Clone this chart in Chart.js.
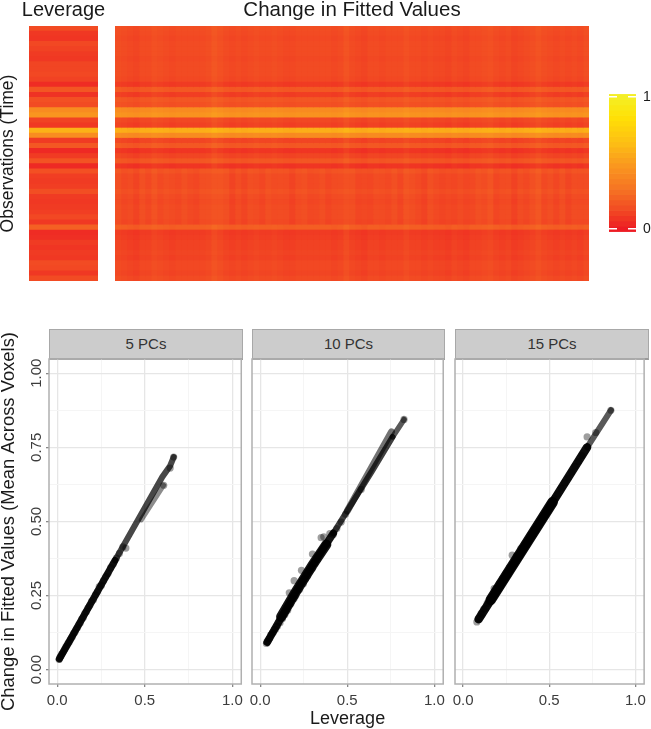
<!DOCTYPE html>
<html>
<head>
<meta charset="utf-8">
<script src="https://cdn.jsdelivr.net/npm/chart.js@4"></script>
<style>
    html, body { margin: 0; padding: 0; background: #fff; overflow: hidden; }
    canvas { position: absolute; }
    .soft { filter: blur(0.6px); }
    .strip {
        position: absolute; top: 329px; height: 28px; line-height: 28px;
        background: #cccccc; border: 1px solid #a8a8a8; border-bottom: 2px solid #9a9a9a;
        text-align: center; color: #333; font: 15px "Liberation Sans", sans-serif; line-height: 28px;
    }
</style>
</head>
<body>
<canvas id="leverageHeat" class="soft" style="left:0;top:0"></canvas>
<canvas id="fittedHeat" class="soft" style="left:105px;top:0"></canvas>
<canvas id="colorKey" class="soft" style="left:600px;top:75px"></canvas>
<div class="strip" style="left:49px;width:192px">5 PCs</div>
<div class="strip" style="left:252px;width:191px">10 PCs</div>
<div class="strip" style="left:455px;width:192px">15 PCs</div>
<canvas id="panel5" class="soft" style="left:0;top:320px"></canvas>
<canvas id="panel10" class="soft" style="left:240px;top:320px"></canvas>
<canvas id="panel15" class="soft" style="left:443px;top:320px"></canvas>

<script>
// leverage per time point, top row first
const leverageRows = [.15,.09,.08,.14,.12,.10,.09,.13,.13,.14,.12,.05,.19,.07,.17,.15,.42,.47,.12,.09,
    .60,.43,.10,.20,.04,.10,.18,.04,.17,.11,.10,.11,.16,.10,.09,.10,.11,.14,.09,.23,
    .05,.06,.10,.08,.10,.09,.15,.14,.09,.15];
// same rows in the fitted values block
const fittedRows = [.15,.14,.13,.14,.14,.14,.13,.14,.14,.14,.13,.09,.19,.10,.18,.16,.41,.45,.13,.11,
    .57,.41,.12,.19,.07,.12,.18,.07,.17,.14,.14,.14,.16,.14,.13,.14,.14,.14,.13,.21,
    .09,.10,.11,.11,.12,.11,.13,.13,.12,.14];
// how much lighter/darker each column of the block looks
const columnShift = [.02,.01,0,-.01,.01,.01,.03,.02,.01,0,.01,.01,.01,.01,.01,.02,.05,.03,.01,0,
    .01,.0,.01,.02,.01,.01,.02,.01,.0,.0,.01,.01,.01,.01,.01,.01,.0,.01,.04,.01,
    .0,-.01,.01,.01,.0,.01,.01,.01,.03,.01,.01,.0,.01,.0,.0,-.01,.01,.0,-.01,.01,
    .01,.02,.03,.01,.0,.01,-.01,.0,.01,.02,.04,.02,.01,.0,.01,.0,.01,.0,.02];
// fine vertical stripes, only in the rows from stripeFrom to stripeTo
const stripeShift = [.005,-.01,.01,-.005,.015,-.01,.005,-.015,.01,.01,-.01,.015,-.005,-.015,.01,.005,-.01,.01,.015,-.015,
    .005,-.01,.01,-.005,-.015,.015,-.01,.005,.01,-.015,.005,.015,-.01,-.005,.01,-.015,.01,.005,-.01,.015,
    -.005,.01,-.015,.005,.01,-.01,.015,-.015,.005,.01,-.005,-.015,.015,.005,-.01,.01,-.015,.01,.005,-.01,
    .015,-.005,.01,-.015,.01,.005,-.01,.015,-.01,.005,.01,-.015,.01,-.005,.015,-.01,.005,.01,-.005];
const stripeFrom = 28, stripeTo = 38;
const keyLevels = [0,.04,.08,.12,.16,.2,.24,.28,.32,.36,.4,.44,.48,.52,.56,.6,.64,.68,.72,.76,.8,.84,.88,.92,.96,1];

const keyStops = [[0,237,28,36],[.15,242,75,35],[.3,246,115,35],[.5,250,155,30],[.65,253,190,20],[.85,255,225,5],[1,244,238,38]];

// points per panel: leverage and change in fitted values
const lev5 = [.011,.014,.018,.021,.025,.03,.035,.04,.045,.05,.056,.062,.068,.074,.08,.087,.094,.101,.108,.116,.124,.132,.14,.149,.158,.167,.176,.186,.196,.207,.218,.229,.24,.252,.264,.277,.29,.305,.32,.338,.355,.375,.392,.608,.645,.665];
const fit5 = [.034,.040,.043,.046,.052,.056,.060,.066,.071,.078,.081,.089,.092,.100,.106,.112,.122,.126,.136,.142,.152,.158,.170,.176,.190,.196,.208,.216,.230,.236,.252,.262,.280,.284,.300,.314,.324,.344,.356,.376,.392,.414,.410,.622,.680,.717];
const lev10 = [.036,.04,.045,.05,.055,.06,.065,.07,.076,.082,.088,.094,.1,.107,.114,.121,.128,.135,.142,.15,.158,.167,.167,.176,.185,.195,.195,.205,.215,.226,.237,.237,.248,.26,.272,.285,.3,.3,.315,.33,.35,.365,.385,.4,.42,.44,.465,.49,.58,.826];
const fit10 = [.088,.095,.096,.104,.106,.116,.118,.124,.126,.136,.136,.146,.147,.160,.158,.176,.172,.190,.186,.200,.200,.218,.259,.222,.238,.240,.300,.250,.266,.270,.296,.335,.290,.306,.316,.332,.342,.390,.358,.372,.445,.448,.424,.459,.456,.476,.498,.524,.608,.844];
const lev15 = [.08,.09,.1,.105,.11,.12,.13,.14,.15,.16,.17,.18,.18,.19,.2,.21,.22,.23,.24,.25,.26,.27,.285,.285,.3,.31,.32,.335,.35,.36,.375,.39,.4,.41,.425,.44,.455,.47,.49,.51,.53,.55,.57,.59,.61,.63,.65,.67,.69,.72,.77,.858];
const fit15 = [.161,.172,.178,.190,.186,.204,.206,.224,.224,.242,.240,.253,.273,.266,.276,.290,.286,.308,.304,.326,.320,.344,.350,.386,.366,.384,.380,.408,.406,.426,.428,.454,.450,.472,.470,.496,.502,.516,.536,.558,.576,.592,.612,.630,.646,.666,.686,.702,.722,.785,.800,.875];

// thick connecting lines in the original, [leverage, fitted]
const core5 = [[.012,.036],[.33,.368]];
const tail5 = [[.33,.368],[.60,.650],[.645,.688],[.665,.717]];
const branch5 = [[.48,.505],[.608,.622]];
const core10 = [[.04,.092],[.2,.258],[.3,.352],[.42,.46]];
const thick10 = [[.12,.178],[.2,.258],[.3,.352],[.38,.422]];
const tail10 = [[.42,.46],[.64,.668],[.76,.785]];
const branch10 = [[.5,.535],[.754,.802]];
const tip10 = [[.76,.785],[.826,.844]];
const core15 = [[.09,.170],[.5,.546],[.72,.750]];
const tail15 = [[.72,.750],[.858,.875]];
const thick15 = [[.16,.235],[.52,.565]];

function heatColor(v) {
    v = Math.max(0, Math.min(1, v));
    for (let i = 1; i < keyStops.length; i++) {
        if (v <= keyStops[i][0]) {
            const a = keyStops[i - 1], b = keyStops[i];
            const t = (v - a[0]) / (b[0] - a[0]);
            return `rgb(${a[1] + (b[1] - a[1]) * t},${a[2] + (b[2] - a[2]) * t},${a[3] + (b[3] - a[3]) * t})`;
        }
    }
    return '#f4ee26';
}

const fontName = '"Liberation Sans", sans-serif';
const rowLabels = leverageRows.map((v, i) => i + 1);

function sizeCanvas(id, w, h) {
    const c = document.getElementById(id);
    c.width = w; c.height = h;
    c.style.width = w + 'px'; c.style.height = h + 'px';
    return c;
}

function fixWidth(w) { return (scale) => { scale.width = w; }; }
function fixHeight(h) { return (scale) => { scale.height = h; }; }

// orange fill behind the bars so no white seams show between rows
const seamFill = {
    id: 'seamFill',
    beforeDatasetsDraw(chart) {
        const a = chart.chartArea;
        chart.ctx.fillStyle = '#f04a20';
        chart.ctx.fillRect(a.left, a.top, a.right - a.left, a.bottom - a.top);
    }
};

new Chart(sizeCanvas('leverageHeat', 127, 285), {
    type: 'bar',
    plugins: [seamFill],
    data: {
        labels: rowLabels,
        datasets: [{
            data: leverageRows.map(() => 1),
            backgroundColor: leverageRows.map(heatColor),
            barPercentage: 1, categoryPercentage: 1
        }]
    },
    options: {
        indexAxis: 'y', animation: false, responsive: false,
        layout: { padding: { bottom: 4 } },
        plugins: {
            legend: { display: false }, tooltip: { enabled: false },
            title: { display: true, text: 'Leverage', color: '#1a1a1a', font: { family: fontName, size: 20, weight: 'normal' }, padding: { top: -2, bottom: 4 } }
        },
        scales: {
            x: { display: false, min: 0, max: 1 },
            y: {
                afterFit: fixWidth(29), grid: { display: false }, border: { display: false },
                ticks: { display: false },
                title: { display: true, text: 'Observations (Time)', color: '#1a1a1a', font: { family: fontName, size: 17.5 }, padding: { top: -2, bottom: 0 } }
            },
            // empty axis on the right, keeps the title centred over the strip
            rightGap: {
                axis: 'y', position: 'right', afterFit: fixWidth(29),
                grid: { display: false }, border: { display: false }, ticks: { display: false }
            }
        }
    }
});

new Chart(sizeCanvas('fittedHeat', 494, 285), {
    type: 'bar',
    plugins: [seamFill],
    data: {
        labels: rowLabels,
        datasets: columnShift.map((shift, c) => ({
            data: fittedRows.map(() => 1),
            backgroundColor: fittedRows.map((v, r) => heatColor(v + shift + (r >= stripeFrom && r <= stripeTo ? stripeShift[c] : 0))),
            barPercentage: 1, categoryPercentage: 1
        }))
    },
    options: {
        indexAxis: 'y', animation: false, responsive: false,
        layout: { padding: { left: 10, right: 10, bottom: 4 } },
        plugins: {
            legend: { display: false }, tooltip: { enabled: false },
            title: { display: true, text: 'Change in Fitted Values', color: '#1a1a1a', font: { family: fontName, size: 20.5, weight: 'normal' }, padding: { top: -2, bottom: 3.4 } }
        },
        scales: {
            x: { display: false, stacked: true, min: 0, max: columnShift.length },
            y: { display: false, stacked: true }
        }
    }
});

new Chart(sizeCanvas('colorKey', 51, 180), {
    type: 'bar',
    data: {
        datasets: [{
            data: keyLevels.map(v => ({ x: 1, y: v })),
            backgroundColor: keyLevels.map(heatColor),
            barPercentage: 1, categoryPercentage: 1
        }]
    },
    options: {
        indexAxis: 'y', animation: false, responsive: false,
        layout: { padding: { top: 19, bottom: 23, left: 9 } },
        plugins: { legend: { display: false }, tooltip: { enabled: false } },
        scales: {
            x: { display: false, min: 0, max: 1 },
            y: {
                type: 'linear', position: 'right', offset: false, min: -.023, max: 1.023,
                afterFit: fixWidth(15),
                afterBuildTicks: (scale) => { scale.ticks = [{ value: 0 }, { value: 1 }]; },
                grid: { offset: false, color: '#ffffff', lineWidth: 1.5, z: 1, drawTicks: false },
                border: { display: false, dash: [8, 11] },
                ticks: { color: '#1a1a1a', padding: 7, font: { family: fontName, size: 14 }, callback: v => v }
            }
        }
    }
});

// box round the plot area, all four sides like the facets in the reference
const panelBox = {
    id: 'panelBox',
    afterDraw(chart) {
        const a = chart.chartArea, ctx = chart.ctx;
        ctx.save();
        ctx.strokeStyle = '#b0b0b0';
        ctx.lineWidth = 1.5;
        ctx.strokeRect(a.left, a.top, a.right - a.left, a.bottom - a.top);
        ctx.restore();
    }
};

function toPoints(pairs) { return pairs.map(p => ({ x: p[0], y: p[1] })); }

function lineSet(pairs, color, width) {
    return { data: toPoints(pairs), showLine: true, pointRadius: 0, borderColor: color, borderWidth: width, borderCapStyle: 'round', order: 1 };
}

function drawPanel(id, w, yWidth, lev, fit, lines, first, xTitle) {
    new Chart(sizeCanvas(id, w, 409), {
        type: 'scatter',
        plugins: [panelBox],
        data: {
            datasets: [{
                data: lev.map((v, i) => ({ x: v, y: fit[i] })),
                pointRadius: 3.6, borderWidth: 0,
                backgroundColor: 'rgba(0,0,0,0.38)',
                order: 2
            }].concat(lines)
        },
        options: {
            animation: false, responsive: false,
            layout: { padding: { top: 39, right: 5 } },
            plugins: { legend: { display: false }, tooltip: { enabled: false } },
            scales: {
                x: {
                    type: 'linear', min: -.047, max: 1.051,
                    afterFit: fixHeight(45),
                    grid: {
                        color: c => c.index % 2 ? '#f5f5f5' : '#e6e6e6', lineWidth: c => c.index % 2 ? 1 : 1.3,
                        tickColor: c => c.index % 2 ? 'transparent' : '#888', tickLength: 3
                    },
                    border: { display: false },
                    ticks: {
                        stepSize: .25, includeBounds: false, autoSkip: false, maxRotation: 0, padding: 5,
                        color: '#3c3c3c', font: { family: fontName, size: 15 },
                        callback: (v, i) => i % 2 ? '' : v.toFixed(1)
                    },
                    title: { display: !!xTitle, text: xTitle, color: '#1a1a1a', font: { family: fontName, size: 18 }, padding: { top: -1, bottom: -1 } }
                },
                y: {
                    type: 'linear', min: -.0486, max: 1.048,
                    afterFit: fixWidth(yWidth),
                    grid: {
                        color: c => c.index % 2 ? '#f5f5f5' : '#e6e6e6', lineWidth: c => c.index % 2 ? 1 : 1.3,
                        drawTicks: first, tickColor: c => c.index % 2 ? 'transparent' : '#888', tickLength: 3
                    },
                    border: { display: false },
                    ticks: {
                        display: first, stepSize: .125, includeBounds: false, autoSkip: false,
                        minRotation: 90, maxRotation: 90, crossAlign: 'center', padding: -5,
                        color: '#3c3c3c', font: { family: fontName, size: 15 },
                        callback: (v, i) => i % 2 ? '' : v.toFixed(2)
                    },
                    title: { display: first, text: 'Change in Fitted Values (Mean Across Voxels)', color: '#1a1a1a', font: { family: fontName, size: 18.4 }, padding: { top: -2, bottom: 0 } }
                }
            }
        }
    });
}

drawPanel('panel5', 248, 49, lev5, fit5, [
    lineSet(core5, 'rgba(0,0,0,0.92)', 7),
    lineSet(tail5, 'rgba(0,0,0,0.72)', 6),
    lineSet(branch5, 'rgba(0,0,0,0.45)', 5)
], true, '');

drawPanel('panel10', 210, 12, lev10, fit10, [
    lineSet(core10, 'rgba(0,0,0,0.92)', 7.5),
    lineSet(thick10, 'rgba(0,0,0,0.92)', 10),
    lineSet(tail10, 'rgba(0,0,0,0.75)', 6),
    lineSet(branch10, 'rgba(0,0,0,0.55)', 7),
    lineSet(tip10, 'rgba(0,0,0,0.65)', 5.5)
], false, 'Leverage');

drawPanel('panel15', 208, 12, lev15, fit15, [
    lineSet(core15, 'rgba(0,0,0,0.95)', 8.5),
    lineSet(thick15, 'rgba(0,0,0,0.95)', 10.5),
    lineSet(tail15, 'rgba(0,0,0,0.65)', 6)
], false, '');
</script>
</body>
</html>
